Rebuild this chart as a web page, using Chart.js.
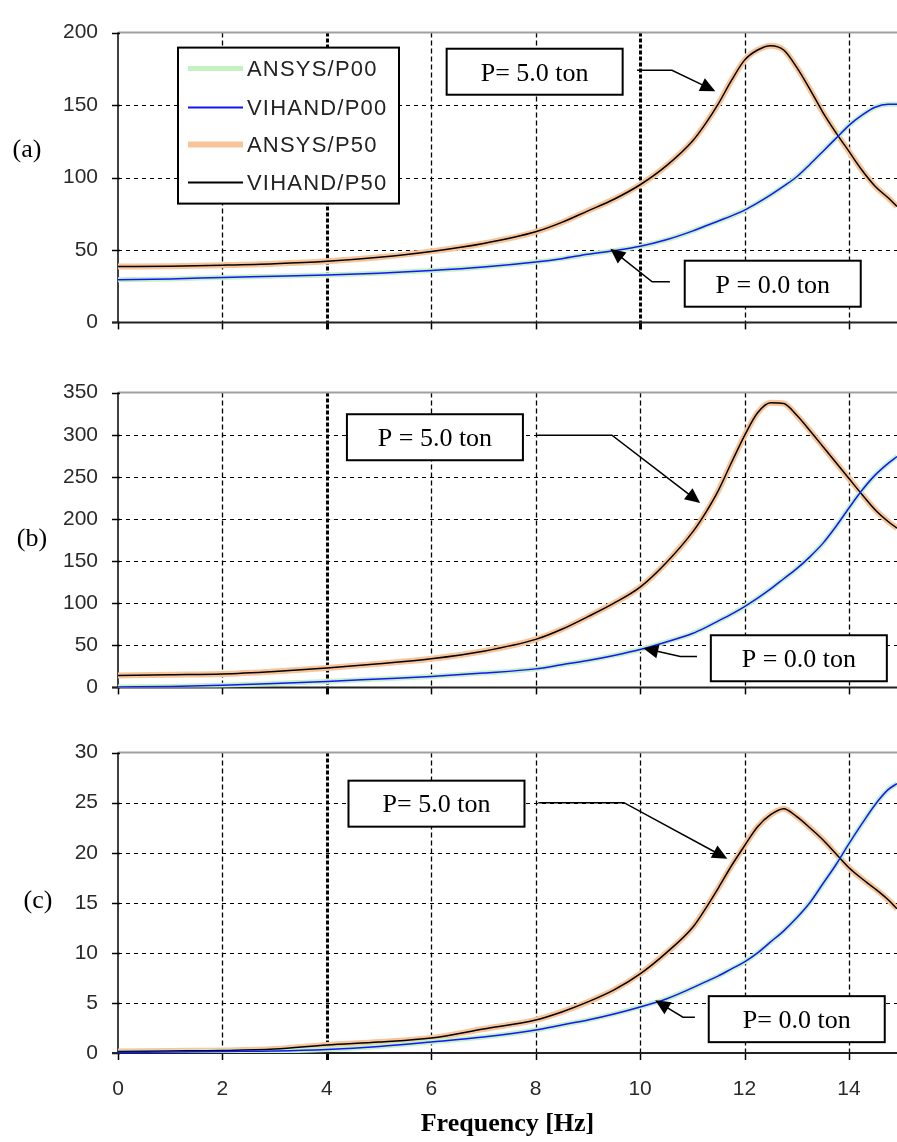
<!DOCTYPE html>
<html>
<head>
<meta charset="utf-8">
<script src="https://cdn.jsdelivr.net/npm/chart.js@4.4.1/dist/chart.umd.min.js"></script>
<style>
  body { margin: 0; background: #fff; width: 897px; height: 1142px; position: relative; overflow: hidden; }
  .panel { position: absolute; left: 0; width: 897px; }
  .tag { position: absolute; font-family: "Liberation Serif", "Times New Roman", serif; font-size: 26px; line-height: 1; transform: translate(-50%, -50%); color: #000; }
</style>
</head>
<body>
<div class="panel" style="top:0;height:355px"><canvas id="chartA" width="897" height="355"></canvas></div>
<div class="panel" style="top:360px;height:360px"><canvas id="chartB" width="897" height="360"></canvas></div>
<div class="panel" style="top:720px;height:422px"><canvas id="chartC" width="897" height="422"></canvas></div>
<div class="tag" style="left:27px;top:149px">(a)</div>
<div class="tag" style="left:32px;top:538px">(b)</div>
<div class="tag" style="left:38px;top:900px">(c)</div>
<script>
// frequency samples [Hz]
const freq = [0, 1, 2, 3, 4, 5, 6, 7, 8, 8.5, 9, 9.5, 10, 10.5, 11, 11.25, 11.5, 11.75, 12, 12.25, 12.5, 12.75, 13, 13.25, 13.5, 13.75, 14, 14.25, 14.5, 14.75, 14.92];
const xTicks = [0, 2, 4, 6, 8, 10, 12, 14];
const xMax = 14.92;

// panel (a)
const yTicksA = [0, 50, 100, 150, 200];
const respA_P00 = [29.5, 30, 31, 31.8, 32.7, 34, 35.8, 38.2, 41.7, 44, 47, 49.5, 52.5, 57, 63, 66.5, 70, 73.5, 77.5, 82.5, 88, 94, 100.5, 109, 118, 127, 136, 143, 148.5, 150.5, 150.5];
const respA_P50 = [38.5, 38.8, 39.5, 40.5, 42.2, 45, 49, 54.5, 62.5, 69, 77, 85, 95, 108, 125, 137, 151, 167, 181, 188, 191, 188, 176, 161, 145, 131, 118, 105, 94, 86, 80];

// panel (b)
const yTicksB = [0, 50, 100, 150, 200, 250, 300, 350];
const respB_P00 = [0.5, 1, 2.5, 4.5, 7, 10, 13, 17, 22, 27, 32, 38, 45, 54, 64, 71, 79, 87, 96, 106, 117, 129, 141, 155, 171, 191, 213, 234, 252, 266, 274];
const respB_P50 = [14, 15, 16, 19, 23, 28, 34, 43, 57, 69, 84, 100, 119, 148, 184, 207, 234, 267, 299, 326, 338, 337, 323, 305, 286, 267, 248, 229, 211, 197, 189];

// panel (c)
const yTicksC = [0, 5, 10, 15, 20, 25, 30];
const respC_P00 = [0.05, 0.1, 0.15, 0.2, 0.35, 0.65, 1.1, 1.6, 2.3, 2.8, 3.3, 3.9, 4.6, 5.4, 6.5, 7.1, 7.7, 8.4, 9.1, 10, 11.1, 12.2, 13.5, 15, 16.9, 18.8, 20.9, 22.9, 24.8, 26.3, 26.9];
const respC_P50 = [0.15, 0.2, 0.25, 0.4, 0.8, 1.1, 1.5, 2.4, 3.3, 4.1, 5.1, 6.3, 7.9, 10, 12.5, 14.4, 16.5, 18.7, 20.7, 22.6, 23.8, 24.4, 23.6, 22.5, 21.3, 19.9, 18.5, 17.4, 16.4, 15.3, 14.4];

// callouts: box centre and arrow path in data units
const notesA = [
  { text: 'P= 5.0 ton', at: [7.98, 173], arrow: [[9.94, 174], [10.61, 174], [11.44, 159.6]] },
  { text: 'P = 0.0 ton', at: [12.54, 26.7], arrow: [[10.57, 28], [10.23, 28], [9.43, 50.9]] }
];
const notesB = [
  { text: 'P = 5.0 ton', at: [6.07, 297], arrow: [[8.03, 299.5], [9.46, 299.5], [11.15, 219]] },
  { text: 'P = 0.0 ton', at: [13.04, 34.6], arrow: [[11.09, 36.7], [10.77, 36.7], [10.06, 46.5]] }
];
const notesC = [
  { text: 'P= 5.0 ton', at: [6.10, 24.9], arrow: [[8.05, 25], [9.69, 25], [11.67, 19.4]] },
  { text: 'P= 0.0 ton', at: [13.0, 3.38], arrow: [[11.05, 3.57], [10.82, 3.57], [10.29, 5.26]] }
];

const framePlugin = {
  id: 'frame',
  beforeDatasetsDraw(chart, args, opts) {
    const { ctx, chartArea: a, scales: { x, y } } = chart;
    ctx.save();
    ctx.strokeStyle = '#000';
    // horizontal grid
    ctx.lineWidth = 1;
    ctx.setLineDash([4, 4]);
    y.ticks.forEach(t => {
      if (t.value === y.min || t.value === y.max) return;
      const py = Math.round(y.getPixelForValue(t.value)) + 0.5;
      ctx.beginPath(); ctx.moveTo(a.left, py); ctx.lineTo(a.right, py); ctx.stroke();
    });
    // vertical grid
    x.ticks.forEach(t => {
      if (t.value === 0) return;
      const bold = opts.boldX.includes(t.value);
      const px = Math.round(x.getPixelForValue(t.value)) + 0.5;
      ctx.lineWidth = bold ? 3 : 1.3;
      ctx.setLineDash(bold ? [4, 2] : [5, 3]);
      ctx.beginPath(); ctx.moveTo(px, a.top); ctx.lineTo(px, a.bottom); ctx.stroke();
    });
    ctx.setLineDash([]);
    // top border
    ctx.strokeStyle = '#a0a0a0';
    ctx.lineWidth = 2;
    ctx.beginPath(); ctx.moveTo(a.left, a.top); ctx.lineTo(a.right, a.top); ctx.stroke();
    // tick marks
    ctx.strokeStyle = '#000';
    ctx.lineWidth = 1.5;
    y.ticks.forEach(t => {
      const py = Math.round(y.getPixelForValue(t.value)) + 0.5;
      ctx.beginPath(); ctx.moveTo(a.left - 6, py); ctx.lineTo(a.left + 2, py); ctx.stroke();
    });
    x.ticks.forEach(t => {
      const px = Math.round(x.getPixelForValue(t.value)) + 0.5;
      ctx.lineWidth = opts.boldX.includes(t.value) ? 3 : 1.5;
      ctx.beginPath(); ctx.moveTo(px, a.bottom); ctx.lineTo(px, a.bottom + 7); ctx.stroke();
    });
    // axes
    ctx.lineWidth = 1.5;
    ctx.beginPath(); ctx.moveTo(a.left, a.top); ctx.lineTo(a.left, a.bottom); ctx.stroke();
    ctx.strokeStyle = '#222';
    ctx.lineWidth = 2;
    ctx.beginPath(); ctx.moveTo(a.left - 6, a.bottom); ctx.lineTo(a.right, a.bottom); ctx.stroke();
    ctx.restore();
  }
};

const notesPlugin = {
  id: 'notes',
  afterDatasetsDraw(chart, args, opts) {
    const { ctx, chartArea: a, scales: { x, y } } = chart;
    const px = v => x.getPixelForValue(v);
    const py = v => y.getPixelForValue(v);
    ctx.save();
    ctx.strokeStyle = '#000';
    ctx.fillStyle = '#000';
    opts.items.forEach(n => {
      const pts = n.arrow.map(p => [px(p[0]), py(p[1])]);
      const [x1, y1] = pts[pts.length - 2];
      const [x2, y2] = pts[pts.length - 1];
      const ang = Math.atan2(y2 - y1, x2 - x1);
      const L = 15, W = 7;
      ctx.lineWidth = 1.5;
      ctx.beginPath();
      pts.forEach((p, i) => {
        if (i === 0) ctx.moveTo(p[0], p[1]);
        else if (i < pts.length - 1) ctx.lineTo(p[0], p[1]);
        else ctx.lineTo(p[0] - L * 0.8 * Math.cos(ang), p[1] - L * 0.8 * Math.sin(ang));
      });
      ctx.stroke();
      ctx.beginPath();
      ctx.moveTo(x2, y2);
      ctx.lineTo(x2 - L * Math.cos(ang) + W * Math.sin(ang), y2 - L * Math.sin(ang) - W * Math.cos(ang));
      ctx.lineTo(x2 - L * Math.cos(ang) - W * Math.sin(ang), y2 - L * Math.sin(ang) + W * Math.cos(ang));
      ctx.closePath();
      ctx.fill();
      // box
      const cx = px(n.at[0]), cy = py(n.at[1]);
      const w = 176, h = 46;
      ctx.fillStyle = '#fff';
      ctx.fillRect(cx - w / 2, cy - h / 2, w, h);
      ctx.lineWidth = 2;
      ctx.strokeRect(cx - w / 2, cy - h / 2, w, h);
      ctx.fillStyle = '#000';
      ctx.font = '26px "Liberation Serif", "Times New Roman", serif';
      ctx.textAlign = 'center';
      ctx.textBaseline = 'middle';
      ctx.fillText(n.text, cx, cy + 2);
    });
    if (opts.legend) {
      const bx = a.left + 60, by = a.top + 15, bw = 221, bh = 156;
      const rows = [21, 60, 97, 135];
      ctx.fillStyle = '#fff';
      ctx.fillRect(bx, by, bw, bh);
      ctx.strokeStyle = '#000';
      ctx.lineWidth = 2;
      ctx.strokeRect(bx, by, bw, bh);
      ctx.font = '22px "Liberation Sans", Arial, sans-serif';
      ctx.letterSpacing = '1.2px';
      ctx.textAlign = 'left';
      ctx.textBaseline = 'middle';
      chart.data.datasets.forEach((ds, i) => {
        const ry = by + rows[i];
        ctx.strokeStyle = ds.borderColor;
        ctx.lineWidth = ds.borderWidth + (ds.borderWidth > 2 ? 0 : 0.5);
        ctx.beginPath(); ctx.moveTo(bx + 10, ry); ctx.lineTo(bx + 65, ry); ctx.stroke();
        ctx.fillStyle = '#222';
        ctx.fillText(ds.label, bx + 69, ry + 1);
      });
    }
    ctx.restore();
  }
};

function points(values) {
  return freq.map((f, i) => ({ x: f, y: values[i] }));
}

function makeChart(id, p00, p50, yTicks, notes, cfg) {
  return new Chart(document.getElementById(id), {
    type: 'line',
    data: {
      datasets: [
        { label: 'ANSYS/P00', data: points(p00), borderColor: '#c2f2c2', borderWidth: 5, order: 2 },
        { label: 'VIHAND/P00', data: points(p00), borderColor: '#1414ff', borderWidth: 1.5, order: 1 },
        { label: 'ANSYS/P50', data: points(p50), borderColor: '#f8c59b', borderWidth: 6, order: 2 },
        { label: 'VIHAND/P50', data: points(p50), borderColor: '#000000', borderWidth: 1.5, order: 1 }
      ]
    },
    options: {
      responsive: false,
      animation: false,
      layout: { padding: { top: cfg.top, right: 0, bottom: 0, left: 0 } },
      elements: { point: { radius: 0 }, line: { cubicInterpolationMode: 'monotone' } },
      scales: {
        x: {
          type: 'linear',
          min: 0,
          max: xMax,
          afterBuildTicks: s => { s.ticks = xTicks.map(v => ({ value: v })); },
          afterFit: s => { s.height = cfg.bottom; },
          grid: { display: false },
          border: { display: false },
          ticks: {
            display: cfg.xLabels,
            padding: 16,
            color: '#2a2a2a',
            font: { family: '"Liberation Sans", Arial, sans-serif', size: 21 }
          },
          title: {
            display: cfg.xLabels,
            text: 'Frequency [Hz]',
            color: '#000',
            padding: { top: 0, bottom: 2 },
            font: { family: '"Liberation Serif", "Times New Roman", serif', size: 26, weight: 'bold' }
          }
        },
        y: {
          min: 0,
          max: yTicks[yTicks.length - 1],
          afterBuildTicks: s => { s.ticks = yTicks.map(v => ({ value: v })); },
          afterFit: s => { s.width = 118; },
          grid: { display: false, drawTicks: false },
          border: { display: false },
          ticks: {
            padding: 20,
            color: '#2a2a2a',
            font: { family: '"Liberation Sans", Arial, sans-serif', size: 21 }
          }
        }
      },
      plugins: {
        legend: { display: false },
        tooltip: { enabled: false },
        frame: { boldX: cfg.boldX },
        notes: { items: notes, legend: cfg.legend }
      }
    },
    plugins: [framePlugin, notesPlugin]
  });
}

makeChart('chartA', respA_P00, respA_P50, yTicksA, notesA, { top: 17, bottom: 16, boldX: [4, 10], xLabels: false, legend: true });
makeChart('chartB', respB_P00, respB_P50, yTicksB, notesB, { top: 23, bottom: 13, boldX: [4], xLabels: false, legend: false });
makeChart('chartC', respC_P00, respC_P50, yTicksC, notesC, { top: 31, bottom: 89, boldX: [4], xLabels: true, legend: false });
</script>
</body>
</html>
